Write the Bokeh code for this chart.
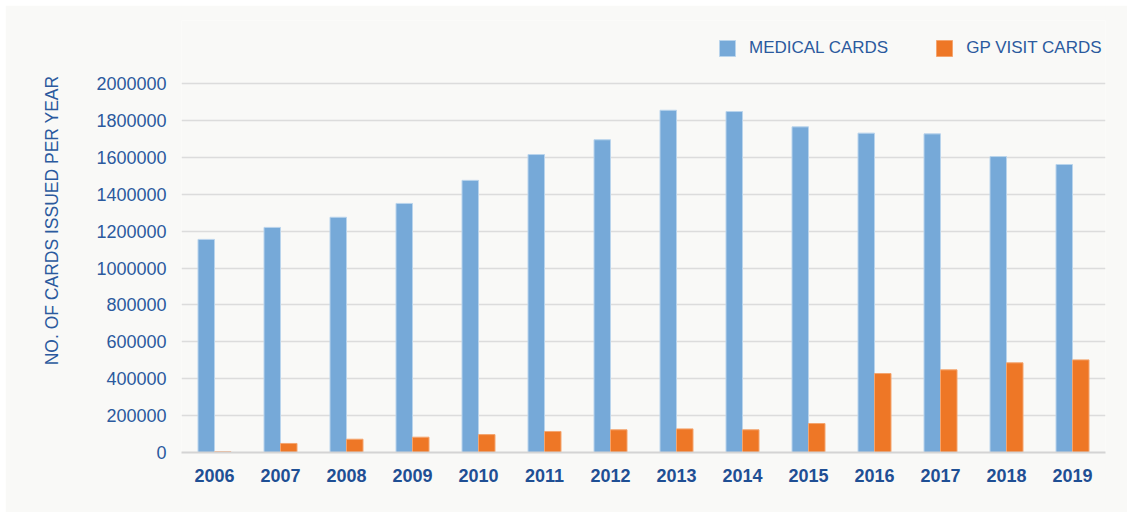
from bokeh.plotting import figure
from bokeh.models import (ColumnDataSource, FactorRange, FixedTicker, Legend, LegendItem,
                          Title, BasicTickFormatter, Range1d)
from bokeh.transform import dodge
from bokeh.embed import file_html
from bokeh.resources import INLINE

years = ["2006", "2007", "2008", "2009", "2010", "2011", "2012",
         "2013", "2014", "2015", "2016", "2017", "2018", "2019"]
medical_cards = [1155000, 1220000, 1275000, 1350000, 1475000, 1615000, 1695000,
                 1855000, 1848000, 1765000, 1731000, 1727000, 1604000, 1561000]
gp_visit_cards = [4000, 49000, 72000, 83000, 97000, 114000, 123000,
                  128000, 123000, 157000, 428000, 448000, 486000, 502000]
y_ticks = [0, 200000, 400000, 600000, 800000, 1000000, 1200000,
           1400000, 1600000, 1800000, 2000000]

BG = "#f9f9f7"
BLUE_TXT = "#2b5a9e"
BOLD_TXT = "#1f4f94"
FONT = "Liberation Sans"

# layout in page pixels
OFF = 5                      # panel offset from page corner
PANEL_RIGHT, PANEL_BOTTOM = 1127, 512
FRAME_TOP = 20               # frame extends above the top gridline so the legend fits inside it
TOP_TICK_PX = 83
ZERO_PX = 452
FRAME_LEFT = 181
FRAME_RIGHT = 1105
FIG_W = PANEL_RIGHT - OFF
FIG_H = PANEL_BOTTOM - OFF
y_end = max(y_ticks) * (ZERO_PX - FRAME_TOP) / (ZERO_PX - TOP_TICK_PX)

src = ColumnDataSource(dict(year=years, medical=medical_cards, gp=gp_visit_cards))

p = figure(x_range=FactorRange(factors=years, range_padding=0),
           y_range=Range1d(0, y_end),
           width=FIG_W, height=FIG_H, output_backend="svg", toolbar_location=None,
           min_border_left=FRAME_LEFT - OFF, min_border_right=PANEL_RIGHT - FRAME_RIGHT,
           min_border_top=FRAME_TOP - OFF, min_border_bottom=PANEL_BOTTOM - ZERO_PX)
p.margin = (OFF, 0, 0, OFF)
p.background_fill_color = BG
p.border_fill_color = BG
p.outline_line_color = None

r1 = p.vbar(x=dodge("year", -0.125, range=p.x_range), top="medical", width=0.25, source=src,
            fill_color="#76a9d8", line_color="#b9d4ec", line_width=1)
r2 = p.vbar(x=dodge("year", 0.125, range=p.x_range), top="gp", width=0.25, source=src,
            fill_color="#ee7726", line_color="#f4a56f", line_width=1)

# axes
p.xaxis.axis_line_color = "#d4d4d4"
p.xaxis.axis_line_width = 2
p.xaxis.major_tick_line_color = None
p.xaxis.minor_tick_line_color = None
p.xaxis.major_tick_out = 0
p.xaxis.major_tick_in = 0
p.xaxis.major_label_standoff = 16
p.xaxis.major_label_text_font = FONT
p.xaxis.major_label_text_font_size = "18px"
p.xaxis.major_label_text_font_style = "bold"
p.xaxis.major_label_text_color = BOLD_TXT

p.yaxis.ticker = FixedTicker(ticks=y_ticks)
p.yaxis.formatter = BasicTickFormatter(use_scientific=False)
p.yaxis.axis_line_color = None
p.yaxis.major_tick_line_color = None
p.yaxis.minor_tick_line_color = None
p.yaxis.major_tick_out = 0
p.yaxis.major_tick_in = 0
p.yaxis.major_label_standoff = 15
p.yaxis.major_label_text_font = FONT
p.yaxis.major_label_text_font_size = "18px"
p.yaxis.major_label_text_color = BLUE_TXT

p.xgrid.grid_line_color = None
p.ygrid.grid_line_color = "#dcdcdc"
p.ygrid.grid_line_width = 1.5
p.ygrid.ticker = FixedTicker(ticks=y_ticks)

# y axis title (top of text ~8px above the top gridline)
p.add_layout(Title(text="NO. OF CARDS ISSUED PER YEAR", align="right",
                   offset=TOP_TICK_PX - 8 - FRAME_TOP,
                   standoff=64, text_font=FONT, text_font_size="17.5px",
                   text_font_style="normal", text_color=BLUE_TXT), "left")

legend = Legend(items=[LegendItem(label="MEDICAL CARDS", renderers=[r1]),
                       LegendItem(label="GP VISIT CARDS", renderers=[r2])],
                orientation="horizontal", location=(536, 394),
                glyph_width=20, glyph_height=20, label_standoff=12, spacing=46,
                padding=0, margin=0, border_line_color=None, background_fill_alpha=0,
                label_text_font=FONT, label_text_font_size="17px",
                label_text_color=BLUE_TXT)
p.add_layout(legend, "center")

open("out.html", "w").write(file_html(p, INLINE))
